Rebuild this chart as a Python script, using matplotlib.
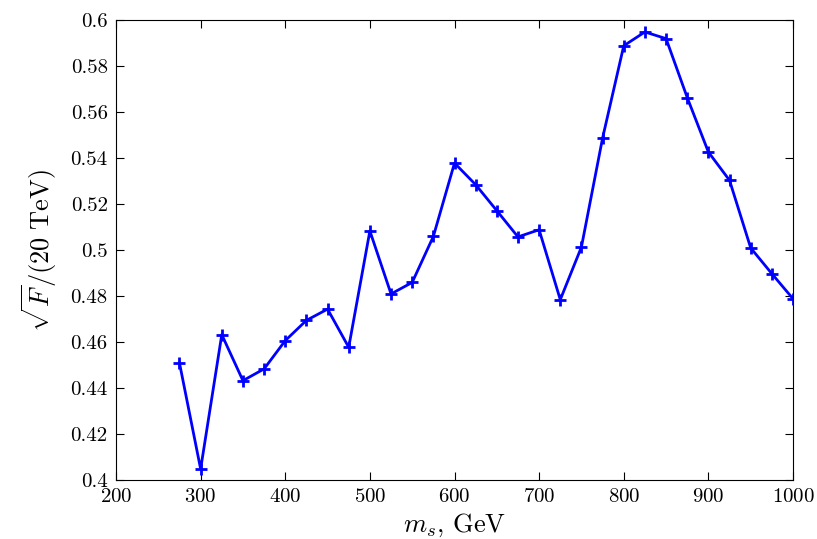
import numpy as np
import matplotlib
matplotlib.use('Agg')
import matplotlib.pyplot as plt
from matplotlib.ticker import FormatStrFormatter

plt.rcParams['font.family'] = 'serif'
plt.rcParams['font.serif'] = ['cmr10']
plt.rcParams['mathtext.fontset'] = 'cm'
plt.rcParams['axes.unicode_minus'] = False
plt.rcParams['axes.formatter.use_mathtext'] = True

# mass points and sqrt(F)/(20 TeV)
m_s = [275, 300, 325, 350, 375, 400, 425, 450, 475, 500, 525, 550, 575, 600,
       625, 650, 675, 700, 725, 750, 775, 800, 825, 850, 875, 900, 925, 950,
       975, 1000]
sqrtF = [0.4509, 0.4048, 0.4632, 0.4432, 0.4483, 0.4606, 0.4694, 0.4743,
         0.4577, 0.5083, 0.4809, 0.4859, 0.5059, 0.5378, 0.5284, 0.5171,
         0.5057, 0.5088, 0.4784, 0.5013, 0.5487, 0.5888, 0.5948, 0.5919,
         0.5663, 0.5426, 0.5303, 0.5009, 0.4897, 0.4788]

fig = plt.figure(figsize=(8.17, 5.39), dpi=100)
ax = fig.add_axes([116/817, 1 - 480/539, (793-116)/817, (480-20)/539])

ax.plot(m_s, sqrtF, color='blue', lw=2, marker='+', ms=8, mew=2)

ax.set_xlim(200, 1000)
ax.set_ylim(0.4, 0.6)
ax.set_xticks(np.arange(200, 1001, 100))
ax.set_yticks(np.arange(0.4, 0.6001, 0.02))
ax.yaxis.set_major_formatter(FormatStrFormatter('%g'))
ax.tick_params(direction='in', top=True, right=True, length=6, labelsize=15, pad=6)

ax.set_xlabel(r'$m_s$, GeV', fontsize=19)
ax.set_ylabel(r'$\sqrt{F}/(20\ \mathrm{TeV})$', fontsize=19, labelpad=8)

fig.savefig('out.png', dpi=100)
